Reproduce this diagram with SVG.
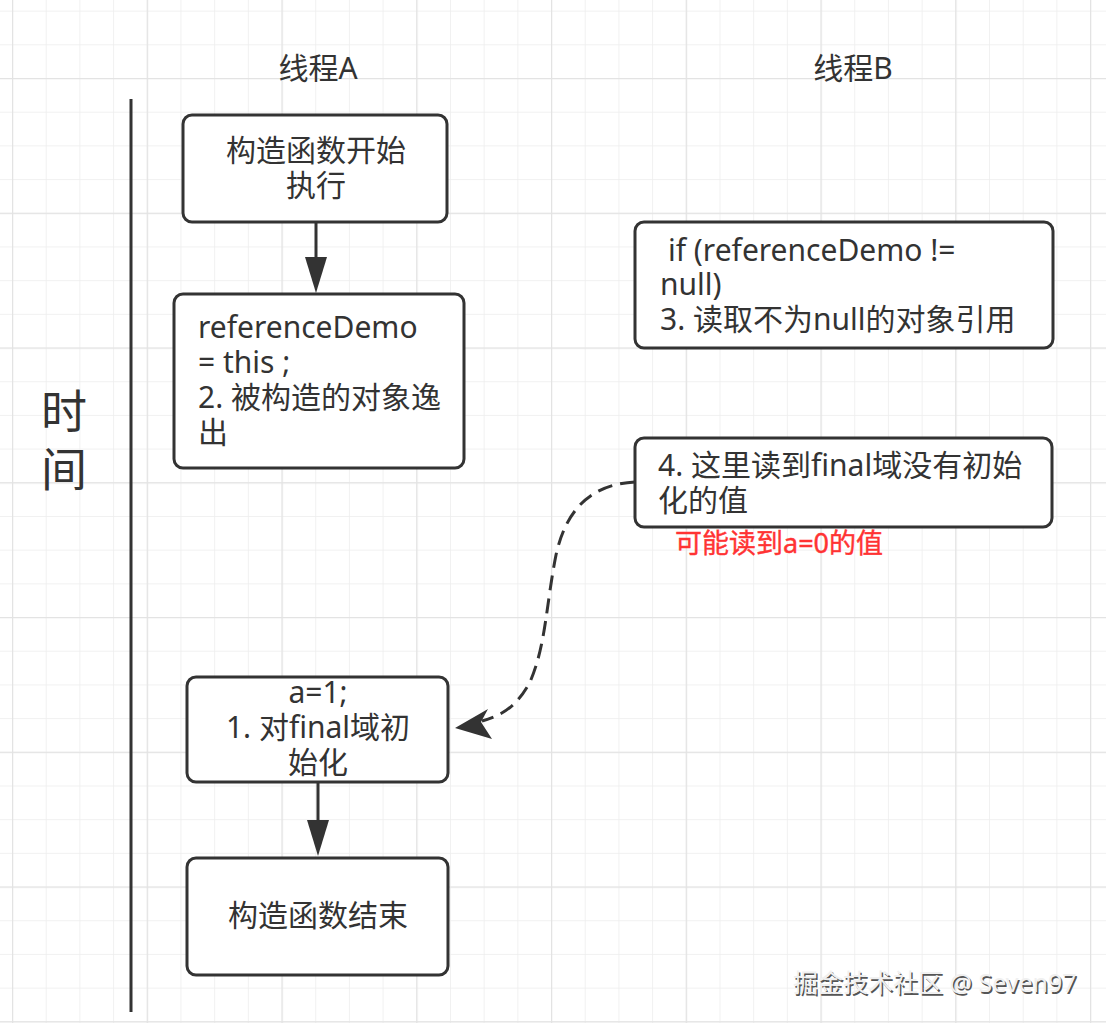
<svg xmlns="http://www.w3.org/2000/svg" width="1106" height="1023" viewBox="0 0 1106 1023">
<defs>
<pattern id="minor" patternUnits="userSpaceOnUse" x="12" y="78" width="33.69" height="33.69">
<path d="M0 0 H33.69 M0 0 V33.69" stroke="#ededed" stroke-width="1.5" fill="none"/>
</pattern>
<pattern id="major" patternUnits="userSpaceOnUse" x="12" y="78" width="134.75" height="134.75">
<path d="M0 0 H134.75 M0 0 V134.75" stroke="#e3e3e3" stroke-width="2.5" fill="none"/>
</pattern>
</defs>
<style>
.box{fill:#fff;stroke:#333;stroke-width:3}
.t{font-family:"Noto Sans","Noto Sans CJK SC",sans-serif;font-size:30px;fill:#333}
.c{text-anchor:middle}
.edge{fill:none;stroke:#333;stroke-width:3}
.head{fill:#333}
</style>
<rect width="1106" height="1023" fill="#fff"/>
<rect width="1106" height="1023" fill="url(#minor)"/>
<rect width="1106" height="1023" fill="url(#major)"/>

<g id="timeline">
<line x1="131" y1="99" x2="131" y2="1012" stroke="#333" stroke-width="3"/>
<text class="t c" x="64" y="428" style="font-size:46px">时</text>
<text class="t c" x="64" y="486" style="font-size:46px">间</text>
</g>

<g id="header-a"><text class="t c" x="318" y="79">线程A</text></g>
<g id="header-b"><text class="t c" x="853" y="79">线程B</text></g>

<g id="connectors">
<line class="edge" x1="316" y1="222" x2="316" y2="259"/>
<path class="head" d="M305 257 L327 257 L316 293 Z"/>
<line class="edge" x1="318" y1="782" x2="318" y2="822"/>
<path class="head" d="M307 820 L329 820 L318 856 Z"/>
<path class="edge" d="M635 482 C 595 484, 567 505, 556 555 C 546 605, 546 645, 530 682 C 516 708, 500 716, 482 721" stroke-dasharray="15 8" stroke-width="3.5"/>
<path class="head" d="M455 728 L488 709 L481 722 L492 739 Z"/>
</g>

<g id="node-start">
<rect class="box" x="183" y="115" width="264" height="107" rx="9"/>
<text class="t c" x="316" y="161">构造函数开始</text>
<text class="t c" x="316" y="196">执行</text>
</g>

<g id="node-escape">
<rect class="box" x="174" y="294" width="290" height="174" rx="9"/>
<text class="t" x="198" y="338">referenceDemo</text>
<text class="t" x="198" y="373">= this ;</text>
<text class="t" x="198" y="408">2. 被构造的对象逸</text>
<text class="t" x="198" y="443">出</text>
</g>

<g id="node-read-ref">
<rect class="box" x="635" y="222" width="418" height="126" rx="9"/>
<text class="t" x="668" y="261">if (referenceDemo !=</text>
<text class="t" x="660" y="295">null)</text>
<text class="t" x="660" y="330">3. 读取不为null的对象引用</text>
</g>

<g id="node-read-final">
<rect class="box" x="635" y="438" width="417" height="89" rx="9"/>
<text class="t" x="658" y="476">4. 这里读到final域没有初始</text>
<text class="t" x="658" y="511">化的值</text>
<text x="675" y="553" style="font-family:'Noto Sans','Noto Sans CJK SC',sans-serif;font-size:27px;fill:#f33;stroke:#f33;stroke-width:0.4">可能读到a=0的值</text>
</g>

<g id="node-init">
<rect class="box" x="187" y="677" width="261" height="105" rx="9"/>
<text class="t c" x="318" y="703">a=1;</text>
<text class="t c" x="318" y="738">1. 对final域初</text>
<text class="t c" x="318" y="773">始化</text>
</g>

<g id="node-end">
<rect class="box" x="187" y="858" width="261" height="117" rx="9"/>
<text class="t c" x="318" y="926">构造函数结束</text>
</g>

<g id="watermark">
<text x="794.5" y="993.5" style="font-family:'Noto Sans','Noto Sans CJK SC',sans-serif;font-size:25px;fill:#555">掘金技术社区 @ Seven97</text>
<text x="793" y="992" style="font-family:'Noto Sans','Noto Sans CJK SC',sans-serif;font-size:25px;fill:#f0f0f0">掘金技术社区 @ Seven97</text>
</g>
</svg>
